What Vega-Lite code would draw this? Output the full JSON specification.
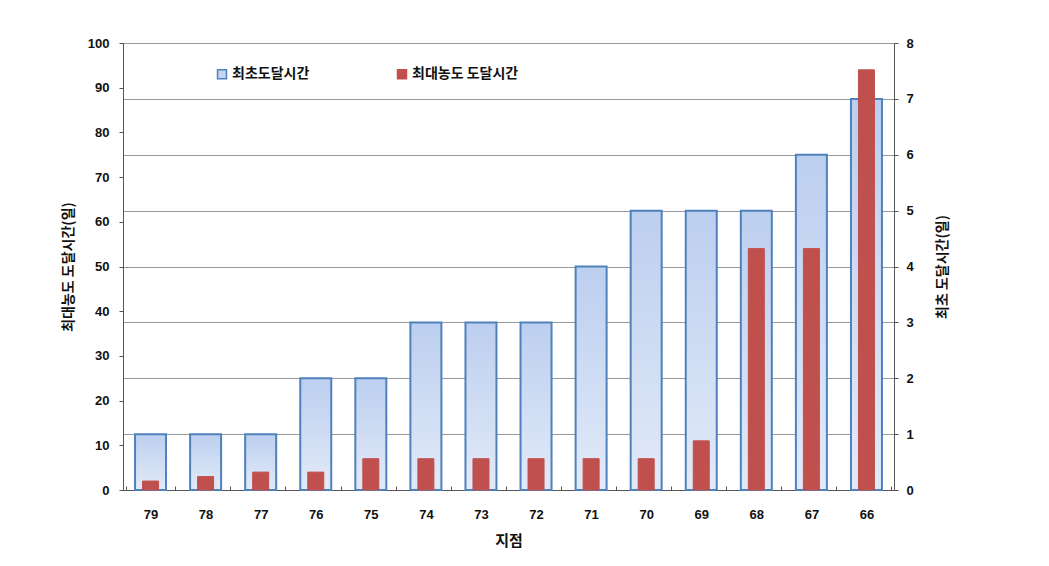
{
  "$schema": "https://vega.github.io/schema/vega-lite/v6.json",
  "autosize": {"type": "none"},
  "padding": {"left": 123, "top": 43, "right": 155, "bottom": 76},
  "width": 771,
  "height": 447,
  "background": "white",
  "config": {
    "view": {"stroke": "#555555", "strokeWidth": 1},
    "font": "Noto Sans CJK KR",
    "axis": {
      "labelFont": "Liberation Sans",
      "labelFontWeight": "bold",
      "labelFontSize": 13,
      "labelColor": "#111111",
      "titleFont": "Noto Sans CJK KR",
      "titleFontWeight": "bold",
      "titleFontSize": 14,
      "titleColor": "#111111",
      "domainColor": "#555555",
      "tickColor": "#555555"
    }
  },
  "datasets": {
    "first": [
      {"site": "79", "days": 1},
      {"site": "78", "days": 1},
      {"site": "77", "days": 1},
      {"site": "76", "days": 2},
      {"site": "75", "days": 2},
      {"site": "74", "days": 3},
      {"site": "73", "days": 3},
      {"site": "72", "days": 3},
      {"site": "71", "days": 4},
      {"site": "70", "days": 5},
      {"site": "69", "days": 5},
      {"site": "68", "days": 5},
      {"site": "67", "days": 6},
      {"site": "66", "days": 7}
    ],
    "peak": [
      {"site": "79", "days": 2, "series": "최대농도 도달시간"},
      {"site": "78", "days": 3, "series": "최대농도 도달시간"},
      {"site": "77", "days": 4, "series": "최대농도 도달시간"},
      {"site": "76", "days": 4, "series": "최대농도 도달시간"},
      {"site": "75", "days": 7, "series": "최대농도 도달시간"},
      {"site": "74", "days": 7, "series": "최대농도 도달시간"},
      {"site": "73", "days": 7, "series": "최대농도 도달시간"},
      {"site": "72", "days": 7, "series": "최대농도 도달시간"},
      {"site": "71", "days": 7, "series": "최대농도 도달시간"},
      {"site": "70", "days": 7, "series": "최대농도 도달시간"},
      {"site": "69", "days": 11, "series": "최대농도 도달시간"},
      {"site": "68", "days": 54, "series": "최대농도 도달시간"},
      {"site": "67", "days": 54, "series": "최대농도 도달시간"},
      {"site": "66", "days": 94, "series": "최대농도 도달시간"}
    ]
  },
  "encoding": {
    "x": {
      "field": "site",
      "type": "nominal",
      "sort": null,
      "title": "지점",
      "axis": {
        "labelAngle": 0,
        "tickBand": "extent",
        "tickSize": -4,
        "labelPadding": 22,
        "titlePadding": 12,
        "titleFontSize": 15
      }
    }
  },
  "layer": [
    {
      "data": {"name": "first"},
      "mark": {
        "type": "bar",
        "width": 31,
        "stroke": "#4f81bd",
        "strokeWidth": 2,
        "fill": {
          "gradient": "linear",
          "x1": 0, "y1": 0, "x2": 0, "y2": 1,
          "stops": [
            {"offset": 0, "color": "#bccfef"},
            {"offset": 1, "color": "#e2eaf8"}
          ]
        }
      },
      "encoding": {
        "y": {
          "field": "days",
          "type": "quantitative",
          "scale": {"domain": [0, 8]},
          "title": "최초 도달시간(일)",
          "axis": {
            "orient": "right",
            "values": [0, 1, 2, 3, 4, 5, 6, 7, 8],
            "grid": true,
            "gridColor": "#999999",
            "gridWidth": 1,
            "tickSize": 4,
            "labelPadding": 8,
            "titleAngle": 270,
            "titlePadding": 36
          }
        }
      }
    },
    {
      "data": {"name": "peak"},
      "mark": {"type": "bar", "width": 16},
      "encoding": {
        "y": {
          "field": "days",
          "type": "quantitative",
          "scale": {"domain": [0, 100]},
          "title": "최대농도 도달시간(일)",
          "axis": {
            "orient": "left",
            "values": [0, 10, 20, 30, 40, 50, 60, 70, 80, 90, 100],
            "grid": false,
            "tickSize": 4,
            "labelPadding": 10,
            "titlePadding": 12
          }
        },
        "color": {
          "field": "series",
          "type": "nominal",
          "scale": {
            "domain": ["최초도달시간", "최대농도 도달시간"],
            "range": ["#c6d6f1", "#c0504d"]
          },
          "legend": {
            "title": null,
            "orient": "none",
            "legendX": 92,
            "legendY": 24,
            "direction": "horizontal",
            "symbolType": "square",
            "symbolSize": 80,
            "symbolStrokeWidth": 1.5,
            "labelFont": "Noto Sans CJK KR",
            "labelFontWeight": "bold",
            "labelFontSize": 14,
            "labelColor": "#111111",
            "labelOffset": 3,
            "columnPadding": 84
          }
        },
        "stroke": {
          "field": "series",
          "type": "nominal",
          "scale": {
            "domain": ["최초도달시간", "최대농도 도달시간"],
            "range": ["#4f81bd", "#c0504d"]
          },
          "legend": {
            "title": null,
            "orient": "none",
            "legendX": 92,
            "legendY": 24,
            "direction": "horizontal",
            "symbolType": "square",
            "symbolSize": 80,
            "symbolStrokeWidth": 1.5,
            "labelFont": "Noto Sans CJK KR",
            "labelFontWeight": "bold",
            "labelFontSize": 14,
            "labelColor": "#111111",
            "labelOffset": 3,
            "columnPadding": 84
          }
        }
      }
    }
  ],
  "resolve": {"scale": {"y": "independent"}}
}
